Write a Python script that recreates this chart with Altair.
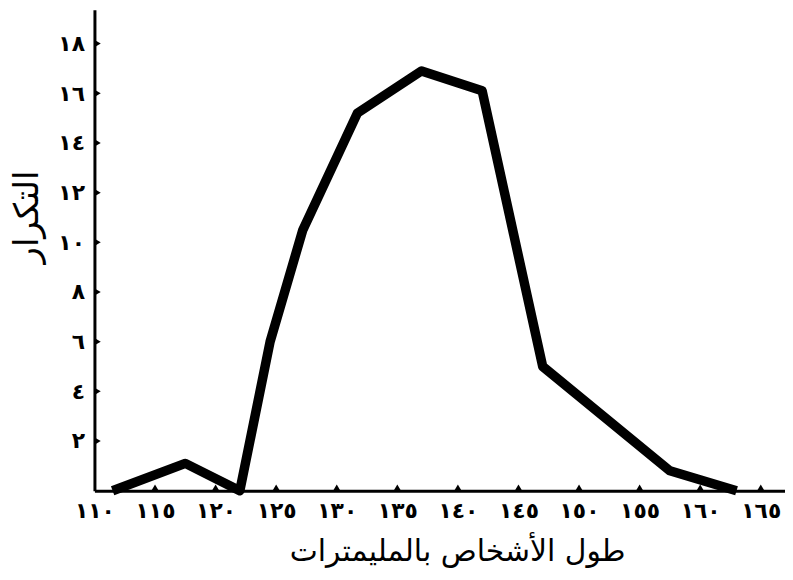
import altair as alt
import pandas as pd

# data
lengths = [111.5, 117.5, 122.0, 124.5, 127.2, 131.7, 137.0, 142.0, 147.0, 157.5, 163.0]
freqs = [0, 1.1, 0, 6.0, 10.5, 15.2, 16.9, 16.1, 5.0, 0.8, 0]

x_ticks = [110, 115, 120, 125, 130, 135, 140, 145, 150, 155, 160, 165]
x_labels = ["١١٠", "١١٥", "١٢٠", "١٢٥", "١٣٠", "١٣٥", "١٤٠", "١٤٥", "١٥٠", "١٥٥", "١٦٠", "١٦٥"]
y_ticks = [2, 4, 6, 8, 10, 12, 14, 16, 18]
y_labels = ["٢", "٤", "٦", "٨", "١٠", "١٢", "١٤", "١٦", "١٨"]

x_title = "طول الأشخاص بالمليمترات"
y_title = "التكرار"

def label_expr(vals, labs):
    expr = "''"
    for v, l in reversed(list(zip(vals, labs))):
        expr = f"datum.value == {v} ? '{l}' : ({expr})"
    return expr

line_df = pd.DataFrame({"x": lengths, "y": freqs})
xt_df = pd.DataFrame({"x": x_ticks[1:], "y": [0] * (len(x_ticks) - 1)})
yt_df = pd.DataFrame({"x": [110] * len(y_ticks), "y": y_ticks})

FONT = "DejaVu Sans"
xscale = alt.Scale(domain=[110, 167], nice=False, zero=False)
yscale = alt.Scale(domain=[0, 19.36], nice=False, zero=True)

x_axis = alt.Axis(
    values=x_ticks, labelExpr=label_expr(x_ticks, x_labels),
    title=x_title, titleFontSize=30, titleFont=FONT, titleFontWeight="normal",
    titleX=365, titleY=46, titleColor="black",
    labelFont=FONT, labelFontSize=22, labelFontWeight="bold", labelColor="black",
    labelPadding=10, tickSize=0, grid=False, domainColor="black", domainWidth=3,
    labelOverlap=False, labelFlush=False,
)
y_axis = alt.Axis(
    values=y_ticks, labelExpr=label_expr(y_ticks, y_labels),
    title=y_title, titleFontSize=34, titleFont=FONT, titleFontWeight="normal",
    titleX=-50, titleY=208, titleAngle=-90, titleColor="black",
    labelFont=FONT, labelFontSize=22, labelFontWeight="bold", labelColor="black",
    labelPadding=10, tickSize=0, grid=False, domainColor="black", domainWidth=3,
    labelOverlap=False, labelFlush=False,
)

line = alt.Chart(line_df).mark_line(
    color="black", strokeWidth=9.5, strokeJoin="round", strokeCap="butt"
).encode(
    x=alt.X("x:Q", scale=xscale, axis=x_axis),
    y=alt.Y("y:Q", scale=yscale, axis=y_axis),
)

xt = alt.Chart(xt_df).mark_point(
    shape="triangle-up", filled=True, color="black", size=60, opacity=1, yOffset=-3
).encode(x=alt.X("x:Q", scale=xscale, axis=x_axis), y=alt.Y("y:Q", scale=yscale, axis=y_axis))

yt = alt.Chart(yt_df).mark_point(
    shape="triangle-right", filled=True, color="black", size=60, opacity=1, xOffset=3
).encode(x=alt.X("x:Q", scale=xscale, axis=x_axis), y=alt.Y("y:Q", scale=yscale, axis=y_axis))

chart = alt.layer(line, xt, yt).properties(
    width=695, height=484,
    background="white",
    autosize=alt.AutoSizeParams(type="none"),
    padding={"left": 87, "top": 0, "right": 0, "bottom": 84},
).configure_view(strokeWidth=0, stroke="transparent").configure_axis(grid=False)

chart.save("out.html", embed_options={"renderer": "svg", "actions": False})
